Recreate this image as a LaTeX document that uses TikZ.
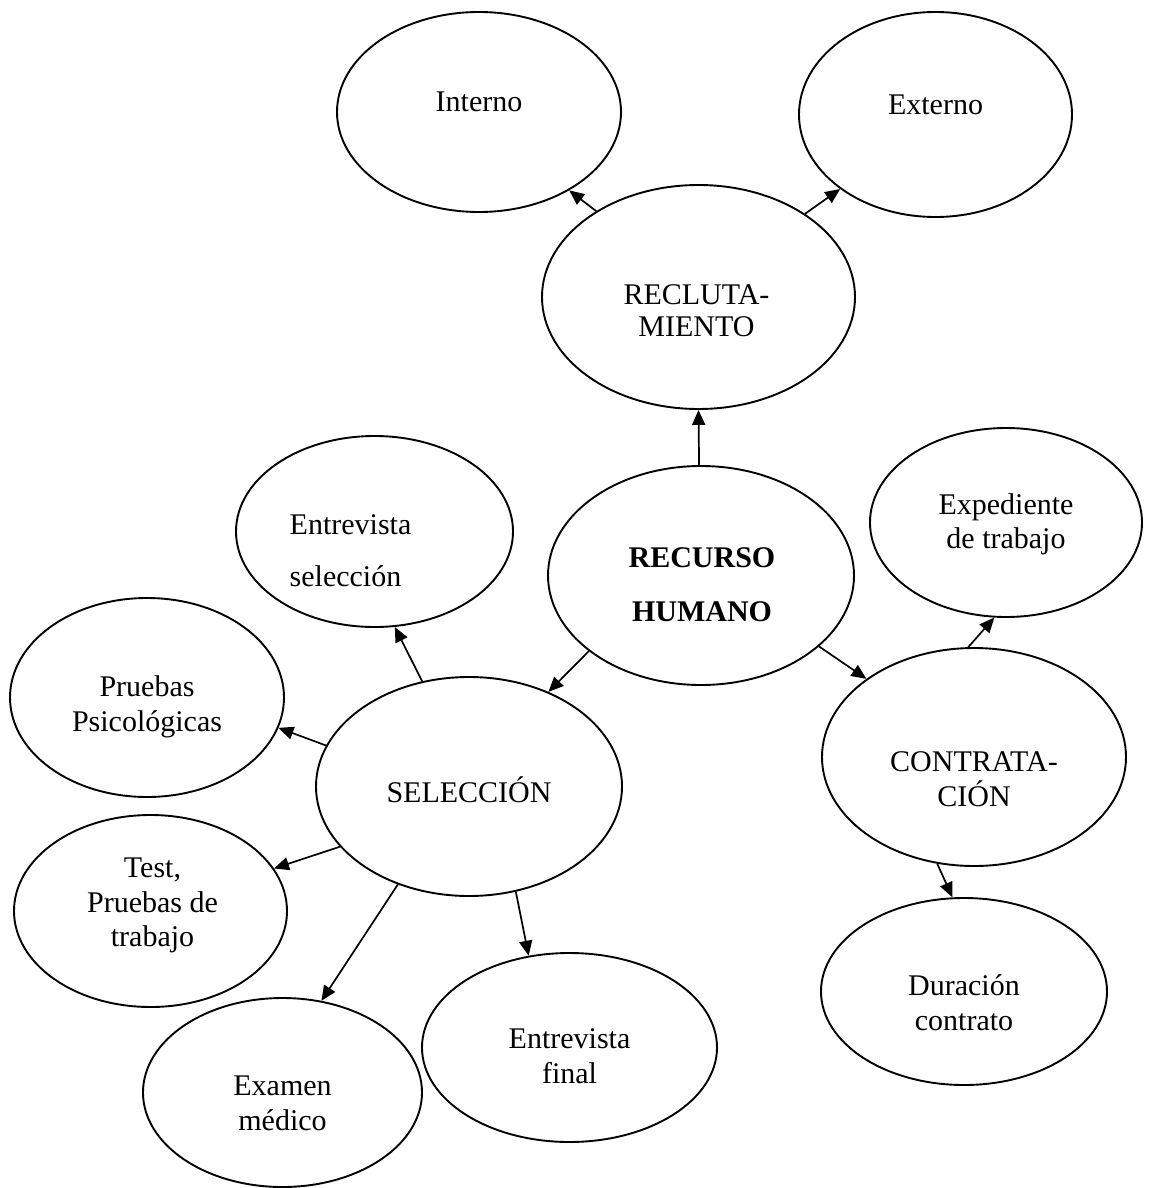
\documentclass[tikz,border=0pt]{standalone}
\usepackage{fontspec}
\setmainfont{Liberation Serif}
\usetikzlibrary{shapes.geometric,arrows.meta}

% A block of lines set with a fixed line distance (#1), centred at
% horizontal offset #2 and vertical offset #3 from the node centre;
% the block itself takes no room, so the ellipse keeps its given size.
\newbox\txbox
\newdimen\txraise
\newcommand\txalign{\hfil}
\newcommand\tx[4][17.25pt]{%
  \setbox\txbox\vbox{\baselineskip=#1\relax\lineskiplimit=-\maxdimen
    \let\\=\cr
    \halign{\vrule height14pt depth5pt width0pt\txalign##\hfil\cr#4\crcr}}%
  \txraise=\dimexpr#3-(\ht\txbox-14pt)/2-4.5pt\relax
  \setbox\txbox\hbox{\raise\txraise\hbox to0pt{\hskip#2\relax
      \hbox to0pt{\hss\box\txbox\hss}\hss}}%
  \ht\txbox=0pt \dp\txbox=0pt \box\txbox}

\tikzset{
  bub/.style 2 args={draw, line width=0.95pt, ellipse, inner sep=0pt,
    minimum width=#1, minimum height=#2},
  arr/.style={line width=0.85pt, -{Triangle[length=7.5pt,width=6.5pt]}},
}

\begin{document}
\begin{tikzpicture}[x=0.5pt,y=-0.5pt,font=\fontsize{15}{17.25}\selectfont]
\useasboundingbox (0,0) rectangle (1149,1188);

% recruitment branch
\node[bub={284pt/2}{200pt/2}] (int) at (479,112) {\tx{0pt}{4.5pt}{Interno}};
\node[bub={273pt/2}{205pt/2}] (ext) at (935.5,114.5) {\tx{0pt}{4.75pt}{Externo}};
\node[bub={313pt/2}{224pt/2}] (rec) at (698.5,297) {\tx[16pt]{-1pt}{-7pt}{RECLUTA-\\MIENTO}};

% central node
\node[bub={306pt/2}{219pt/2}] (rh) at (701,575.5)
  {\tx[27pt]{0.5pt}{-4.75pt}{\textbf{RECURSO}\\\textbf{HUMANO}}};

% selection branch
\node[bub={277pt/2}{191pt/2}] (es) at (374.5,531.5)
  {\def\txalign{}\tx[26pt]{-12pt}{-9.75pt}{Entrevista\\selección}};
\node[bub={274pt/2}{199pt/2}] (pp) at (147,697.5) {\tx{0pt}{-3.75pt}{Pruebas\\Psicológicas}};
\node[bub={306pt/2}{219pt/2}] (sel) at (469,786.5) {\tx{0pt}{-3.25pt}{SELECCIÓN}};
\node[bub={273pt/2}{192pt/2}] (test) at (150.5,911) {\tx{1pt}{4pt}{Test,\\Pruebas de\\trabajo}};
\node[bub={279pt/2}{189pt/2}] (em) at (282.5,1092.5) {\tx{0pt}{-5.75pt}{Examen\\médico}};
\node[bub={295pt/2}{189pt/2}] (ef) at (569.5,1047.5) {\tx{0pt}{-4.75pt}{Entrevista\\final}};

% hiring branch
\node[bub={272pt/2}{189pt/2}] (exp) at (1006,522.5) {\tx{0pt}{0pt}{Expediente\\de trabajo}};
\node[bub={304pt/2}{218pt/2}] (con) at (974,757) {\tx{0pt}{-11.5pt}{CONTRATA-\\CIÓN}};
\node[bub={286pt/2}{187pt/2}] (dur) at (964,991.5) {\tx{0pt}{-6.25pt}{Duración\\contrato}};

% connectors
\draw[arr] (rh.91.6) -- (rec.-90.2);
\draw[arr] (rec.140.3) -- (int.-41.2);
\draw[arr] (rec.38.5) -- (ext.-142.8);
\draw[arr] (rh.-146.6) -- (sel.50.4);
\draw[arr] (rh.-31.1) -- (con.144.4);
\draw[arr] (con.93.2) -- (exp.-97.8);
\draw[arr] (con.-109.3) -- (dur.97.1);
\draw[arr] (sel.114.2) -- (es.-78);
\draw[arr] (sel.164.9) -- (pp.-13.1);
\draw[arr] (sel.-155.9) -- (test.19.8);
\draw[arr] (sel.-126.2) -- (em.67.2);
\draw[arr] (sel.-66.8) -- (ef.114.5);
\end{tikzpicture}
\end{document}
